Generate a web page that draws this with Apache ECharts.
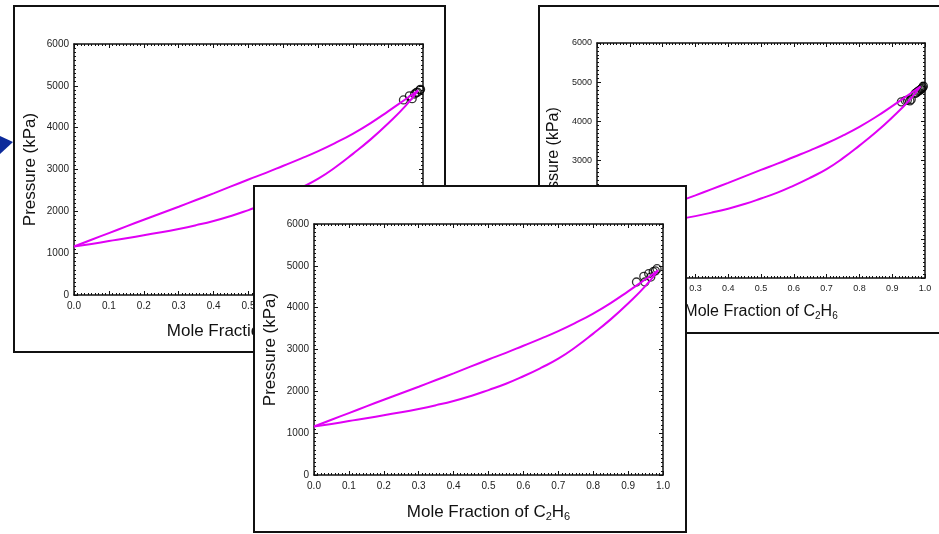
<!DOCTYPE html>
<html>
<head>
<meta charset="utf-8">
<script src="https://cdn.jsdelivr.net/npm/echarts@6/dist/echarts.min.js"></script>
<style>
  html, body { margin: 0; padding: 0; background: #fff; width: 939px; height: 534px; overflow: hidden; position: relative; font-family: "Liberation Sans", Arial, sans-serif; }
  .panel { position: absolute; box-sizing: border-box; border: 2px solid #111; background: #fff; }
  .chart { position: absolute; left: 0; top: 0; right: 0; bottom: 0; }
  #arrow { position: absolute; left: 0; top: 130px; }
</style>
</head>
<body>
<svg id="arrow" width="16" height="30"><polygon points="0,6 13,12 0,24" fill="#0d2b9b"/></svg>
<div class="panel" id="p1" style="left:13px; top:5px; width:433px; height:348px; z-index:1;"><div class="chart" id="c1"></div></div>
<div class="panel" id="p2" style="left:538px; top:5px; width:412px; height:329px; z-index:2;"><div class="chart" id="c2"></div></div>
<div class="panel" id="p3" style="left:253px; top:185px; width:434px; height:348px; z-index:3;"><div class="chart" id="c3"></div></div>
<script>
// ---- data ----
const xCalc   = [0, 0.05, 0.1, 0.15, 0.2, 0.25, 0.3, 0.35, 0.4, 0.45, 0.5, 0.55, 0.6, 0.65, 0.7, 0.75, 0.8, 0.85, 0.9, 0.95, 0.986];
const bubbleP = [1160, 1320, 1480, 1640, 1800, 1955, 2110, 2270, 2430, 2595, 2760, 2920, 3090, 3260, 3440, 3640, 3860, 4110, 4390, 4680, 4890];
const dewP    = [1160, 1220, 1290, 1355, 1430, 1500, 1580, 1670, 1770, 1890, 2030, 2180, 2360, 2560, 2780, 3060, 3380, 3720, 4100, 4520, 4890];

const exp1X = [0.944, 0.961, 0.969, 0.976, 0.981, 0.984, 0.991, 0.993];
const exp1P = [4662, 4760, 4693, 4805, 4837, 4850, 4901, 4917];

const exp2X = [0.928, 0.940, 0.946, 0.954, 0.958, 0.970, 0.974, 0.978, 0.981, 0.985, 0.988, 0.990, 0.993, 0.995];
const exp2P = [4497, 4530, 4541, 4523, 4560, 4711, 4730, 4760, 4780, 4796, 4820, 4840, 4865, 4898];

const exp3X = [0.924, 0.945, 0.948, 0.959, 0.965, 0.972, 0.978, 0.983];
const exp3P = [4613, 4748, 4613, 4812, 4732, 4860, 4880, 4932];

const xTicks = [0, 0.1, 0.2, 0.3, 0.4, 0.5, 0.6, 0.7, 0.8, 0.9, 1.0];
const yTicks = [0, 1000, 2000, 3000, 4000, 5000, 6000];

const xTitle = 'Mole Fraction of C{s|2}H{s|6}';
const yTitle = 'Pressure (kPa)';

function pairs(xs, ys) { return xs.map((x, i) => [x, ys[i]]); }

function buildOption(cfg) {
  const lineColor = '#111';
  const tickLab = { fontSize: cfg.tickFont, color: '#222', fontFamily: 'Liberation Sans' };
  const common = {
    axisLine: { show: true, onZero: false, lineStyle: { color: lineColor, width: 1.5 } },
    axisTick: { show: true, inside: true, length: 4, lineStyle: { color: lineColor, width: 1 } },
    minorTick: { show: true, splitNumber: 10, length: 2, lineStyle: { color: lineColor, width: 1 } },
    splitLine: { show: false }
  };
  const xMain = Object.assign({}, common, {
    type: 'value', min: xTicks[0], max: xTicks[xTicks.length - 1], interval: 0.1, position: 'bottom',
    axisLabel: Object.assign({ margin: cfg.xLabMargin, formatter: v => v.toFixed(1) }, tickLab),
    name: xTitle, nameLocation: 'middle', nameGap: cfg.xNameGap, nameMoveOverlap: false,
    nameTextStyle: { fontSize: cfg.titleFont, color: '#111', fontFamily: 'Liberation Sans', lineHeight: cfg.titleFont + 2,
      rich: { s: { fontSize: cfg.subFont, color: '#111', fontFamily: 'Liberation Sans', verticalAlign: 'bottom', lineHeight: cfg.subFont, padding: [cfg.subFont, 0, 0, 0] } } }
  });
  const xTop = Object.assign({}, common, {
    type: 'value', min: xTicks[0], max: xTicks[xTicks.length - 1], interval: 0.1, position: 'top',
    axisLabel: { show: false }
  });
  const yMain = Object.assign({}, common, {
    type: 'value', min: yTicks[0], max: yTicks[yTicks.length - 1], interval: 1000, position: 'left',
    axisLabel: Object.assign({ margin: cfg.yLabMargin, formatter: v => String(v) }, tickLab),
    name: yTitle, nameLocation: 'middle', nameGap: cfg.yNameGap, nameMoveOverlap: false,
    nameTextStyle: { fontSize: cfg.titleFont, color: '#111', fontFamily: 'Liberation Sans' }
  });
  const yRight = Object.assign({}, common, {
    type: 'value', min: yTicks[0], max: yTicks[yTicks.length - 1], interval: 1000, position: 'right',
    axisLabel: { show: false }
  });
  const lineSeries = (data) => ({
    type: 'line', xAxisIndex: 0, yAxisIndex: 0, data: data, smooth: 0.5, showSymbol: false, symbol: 'none',
    lineStyle: { color: '#e000f5', width: cfg.lineW }, z: 3, animation: false
  });
  return {
    animation: false,
    grid: { left: cfg.gl, top: cfg.gt, width: cfg.gw, height: cfg.gh, containLabel: false, outerBoundsMode: 'none' },
    xAxis: [xMain, xTop],
    yAxis: [yMain, yRight],
    series: [
      {
        type: 'scatter', xAxisIndex: 0, yAxisIndex: 0, data: pairs(cfg.ex, cfg.ep), symbol: 'circle',
        symbolSize: cfg.sym, itemStyle: { color: 'rgba(255,255,255,0)', borderColor: '#000', borderWidth: 1.3 }, z: 2
      },
      lineSeries(pairs(xCalc, bubbleP)),
      lineSeries(pairs(xCalc, dewP))
    ]
  };
}

const cfgs = [
  { id: 'c1', gl: 59, gt: 37, gw: 349, gh: 251, tickFont: 10, titleFont: 17, subFont: 11, xLabMargin: 6, yLabMargin: 5, xNameGap: 27, yNameGap: 35, lineW: 2, sym: 8, ex: exp1X, ep: exp1P },
  { id: 'c2', gl: 57, gt: 36, gw: 328, gh: 235, tickFont: 9, titleFont: 16, subFont: 10, xLabMargin: 6, yLabMargin: 5, xNameGap: 25, yNameGap: 35, lineW: 2, sym: 8, ex: exp2X, ep: exp2P },
  { id: 'c3', gl: 59, gt: 37, gw: 349, gh: 251, tickFont: 10, titleFont: 17, subFont: 11, xLabMargin: 6, yLabMargin: 5, xNameGap: 28, yNameGap: 35, lineW: 2, sym: 8, ex: exp3X, ep: exp3P }
];

cfgs.forEach(cfg => {
  const chart = echarts.init(document.getElementById(cfg.id), null, { renderer: 'canvas' });
  chart.setOption(buildOption(cfg));
});
</script>
</body>
</html>
